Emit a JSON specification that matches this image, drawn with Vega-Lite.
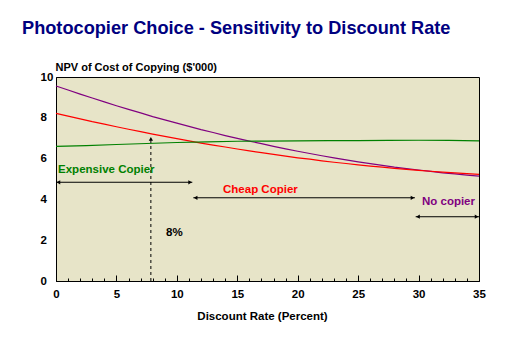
{
  "$schema": "https://vega.github.io/schema/vega-lite/v6.json",
  "width": 423,
  "height": 204,
  "autosize": "none",
  "padding": {"left": 56, "top": 77, "right": 45, "bottom": 76},
  "background": "white",
  "title": {
    "text": "Photocopier Choice - Sensitivity to Discount Rate",
    "anchor": "start",
    "frame": "group",
    "font": "Liberation Sans",
    "fontSize": 18.2,
    "fontWeight": "bold",
    "color": "#000080",
    "offset": 23,
    "dx": -34
  },
  "config": {
    "view": {"stroke": "black", "strokeWidth": 1, "fill": "#E7E4C8"},
    "axis": {
      "domainColor": "black",
      "labelColor": "black",
      "labelFont": "Liberation Sans",
      "labelFontWeight": "bold",
      "labelFontSize": 11.5,
      "titleFont": "Liberation Sans",
      "titleFontWeight": "bold",
      "titleFontSize": 11.5,
      "titleColor": "black",
      "grid": false,
      "tickColor": "black"
    }
  },
  "resolve": {"axis": {"x": "independent"}},
  "datasets": {
    "curves": [
      {"s":"No copier","x":0,"y":9.56},{"s":"No copier","x":1,"y":9.36},{"s":"No copier","x":2,"y":9.16},{"s":"No copier","x":3,"y":8.97},{"s":"No copier","x":4,"y":8.78},{"s":"No copier","x":5,"y":8.59},{"s":"No copier","x":6,"y":8.41},{"s":"No copier","x":7,"y":8.24},{"s":"No copier","x":8,"y":8.06},{"s":"No copier","x":9,"y":7.90},{"s":"No copier","x":10,"y":7.74},{"s":"No copier","x":11,"y":7.58},{"s":"No copier","x":12,"y":7.42},{"s":"No copier","x":13,"y":7.28},{"s":"No copier","x":14,"y":7.13},{"s":"No copier","x":15,"y":6.99},{"s":"No copier","x":16,"y":6.86},{"s":"No copier","x":17,"y":6.73},{"s":"No copier","x":18,"y":6.60},{"s":"No copier","x":19,"y":6.48},{"s":"No copier","x":20,"y":6.36},{"s":"No copier","x":21,"y":6.25},{"s":"No copier","x":22,"y":6.14},{"s":"No copier","x":23,"y":6.04},{"s":"No copier","x":24,"y":5.94},{"s":"No copier","x":25,"y":5.84},{"s":"No copier","x":26,"y":5.75},{"s":"No copier","x":27,"y":5.67},{"s":"No copier","x":28,"y":5.58},{"s":"No copier","x":29,"y":5.51},{"s":"No copier","x":30,"y":5.44},{"s":"No copier","x":31,"y":5.37},{"s":"No copier","x":32,"y":5.30},{"s":"No copier","x":33,"y":5.25},{"s":"No copier","x":34,"y":5.19},{"s":"No copier","x":35,"y":5.14},
      {"s":"Cheap Copier","x":0,"y":8.22},{"s":"Cheap Copier","x":1,"y":8.08},{"s":"Cheap Copier","x":2,"y":7.95},{"s":"Cheap Copier","x":3,"y":7.81},{"s":"Cheap Copier","x":4,"y":7.69},{"s":"Cheap Copier","x":5,"y":7.56},{"s":"Cheap Copier","x":6,"y":7.44},{"s":"Cheap Copier","x":7,"y":7.32},{"s":"Cheap Copier","x":8,"y":7.20},{"s":"Cheap Copier","x":9,"y":7.09},{"s":"Cheap Copier","x":10,"y":6.98},{"s":"Cheap Copier","x":11,"y":6.87},{"s":"Cheap Copier","x":12,"y":6.76},{"s":"Cheap Copier","x":13,"y":6.66},{"s":"Cheap Copier","x":14,"y":6.57},{"s":"Cheap Copier","x":15,"y":6.47},{"s":"Cheap Copier","x":16,"y":6.38},{"s":"Cheap Copier","x":17,"y":6.29},{"s":"Cheap Copier","x":18,"y":6.21},{"s":"Cheap Copier","x":19,"y":6.12},{"s":"Cheap Copier","x":20,"y":6.04},{"s":"Cheap Copier","x":21,"y":5.97},{"s":"Cheap Copier","x":22,"y":5.89},{"s":"Cheap Copier","x":23,"y":5.82},{"s":"Cheap Copier","x":24,"y":5.76},{"s":"Cheap Copier","x":25,"y":5.69},{"s":"Cheap Copier","x":26,"y":5.63},{"s":"Cheap Copier","x":27,"y":5.58},{"s":"Cheap Copier","x":28,"y":5.52},{"s":"Cheap Copier","x":29,"y":5.47},{"s":"Cheap Copier","x":30,"y":5.42},{"s":"Cheap Copier","x":31,"y":5.38},{"s":"Cheap Copier","x":32,"y":5.34},{"s":"Cheap Copier","x":33,"y":5.30},{"s":"Cheap Copier","x":34,"y":5.26},{"s":"Cheap Copier","x":35,"y":5.23},
      {"s":"Expensive Copier","x":0,"y":6.60},{"s":"Expensive Copier","x":2.5,"y":6.64},{"s":"Expensive Copier","x":5,"y":6.69},{"s":"Expensive Copier","x":7.5,"y":6.74},{"s":"Expensive Copier","x":10,"y":6.79},{"s":"Expensive Copier","x":12.5,"y":6.82},{"s":"Expensive Copier","x":15,"y":6.85},{"s":"Expensive Copier","x":17.5,"y":6.86},{"s":"Expensive Copier","x":20,"y":6.87},{"s":"Expensive Copier","x":22.5,"y":6.88},{"s":"Expensive Copier","x":25,"y":6.88},{"s":"Expensive Copier","x":27.5,"y":6.89},{"s":"Expensive Copier","x":30,"y":6.90},{"s":"Expensive Copier","x":32.5,"y":6.89},{"s":"Expensive Copier","x":35,"y":6.87}
    ],
    "arrows": [
      {"x": 0, "x2": 11.28, "y": 4.84},
      {"x": 11.36, "x2": 29.7, "y": 4.08},
      {"x": 29.76, "x2": 35, "y": 3.15}
    ],
    "vline": [
      {"x": 7.85, "y": 0, "y2": 7.05}
    ],
    "heads": [
      {"x": 0.2, "y": 4.84, "dir": "left"},
      {"x": 11.1, "y": 4.84, "dir": "right"},
      {"x": 11.55, "y": 4.08, "dir": "left"},
      {"x": 29.5, "y": 4.08, "dir": "right"},
      {"x": 29.95, "y": 3.15, "dir": "left"},
      {"x": 34.8, "y": 3.15, "dir": "right"},
      {"x": 7.85, "y": 6.97, "dir": "up"}
    ],
    "labels": [
      {"label": "Expensive Copier", "s": "Expensive Copier", "x": 0.17, "y": 5.29},
      {"label": "Cheap Copier", "s": "Cheap Copier", "x": 13.82, "y": 4.29},
      {"label": "No copier", "s": "No copier", "x": 30.28, "y": 3.73},
      {"label": "8%", "s": "Note", "x": 9.1, "y": 2.21}
    ]
  },
  "layer": [
    {
      "data": {"name": "curves"},
      "mark": {"type": "line", "strokeWidth": 1.2},
      "encoding": {
        "x": {
          "field": "x", "type": "quantitative",
          "scale": {"domain": [0, 35], "nice": false},
          "axis": {
            "orient": "bottom",
            "title": "Discount Rate (Percent)",
            "values": [0, 5, 10, 15, 20, 25, 30, 35],
            "tickSize": -6,
            "labelPadding": 13,
            "titleX": 206,
            "titleY": 38,
            "titleBaseline": "alphabetic",
            "titleAlign": "center",
            "labelFlush": false,
            "labelOverlap": false
          }
        },
        "y": {
          "field": "y", "type": "quantitative",
          "scale": {"domain": [0, 10], "nice": false},
          "axis": {
            "title": "NPV of Cost of Copying ($'000)",
            "values": [0, 2, 4, 6, 8, 10],
            "ticks": false,
            "labelAlign": "left",
            "labelPadding": 16,
            "titleAngle": 0,
            "titleX": -1,
            "titleY": -7,
            "titleAlign": "left",
            "titleBaseline": "alphabetic",
            "titleFontSize": 11
          }
        },
        "color": {
          "field": "s", "type": "nominal",
          "scale": {"domain": ["No copier", "Cheap Copier", "Expensive Copier", "Note"], "range": ["#800080", "#FF0000", "#008000", "#000000"]},
          "legend": null
        }
      }
    },
    {
      "data": {"name": "arrows"},
      "mark": {"type": "rule", "color": "black", "strokeWidth": 1},
      "encoding": {
        "x": {
          "field": "x", "type": "quantitative",
          "axis": {
            "orient": "bottom",
            "values": [1,2,3,4,6,7,8,9,11,12,13,14,16,17,18,19,21,22,23,24,26,27,28,29,31,32,33,34],
            "tickSize": -3,
            "labels": false,
            "domain": false,
            "title": null
          }
        },
        "x2": {"field": "x2"},
        "y": {"field": "y", "type": "quantitative"}
      }
    },
    {
      "data": {"name": "vline"},
      "mark": {"type": "rule", "color": "black", "strokeWidth": 1, "strokeDash": [3, 3]},
      "encoding": {
        "x": {"field": "x", "type": "quantitative", "axis": null},
        "y": {"field": "y", "type": "quantitative"},
        "y2": {"field": "y2"}
      }
    },
    {
      "data": {"name": "heads"},
      "mark": {"type": "point", "filled": true, "color": "black", "size": 18, "opacity": 1},
      "encoding": {
        "x": {"field": "x", "type": "quantitative", "axis": null},
        "y": {"field": "y", "type": "quantitative"},
        "shape": {
          "field": "dir", "type": "nominal",
          "scale": {"domain": ["left", "right", "up"], "range": ["triangle-left", "triangle-right", "triangle-up"]},
          "legend": null
        }
      }
    },
    {
      "data": {"name": "labels"},
      "mark": {"type": "text", "align": "left", "baseline": "alphabetic", "font": "Liberation Sans", "fontWeight": "bold", "fontSize": 11.5},
      "encoding": {
        "x": {"field": "x", "type": "quantitative", "axis": null},
        "y": {"field": "y", "type": "quantitative"},
        "text": {"field": "label"},
        "color": {"field": "s", "type": "nominal", "legend": null}
      }
    }
  ]
}
